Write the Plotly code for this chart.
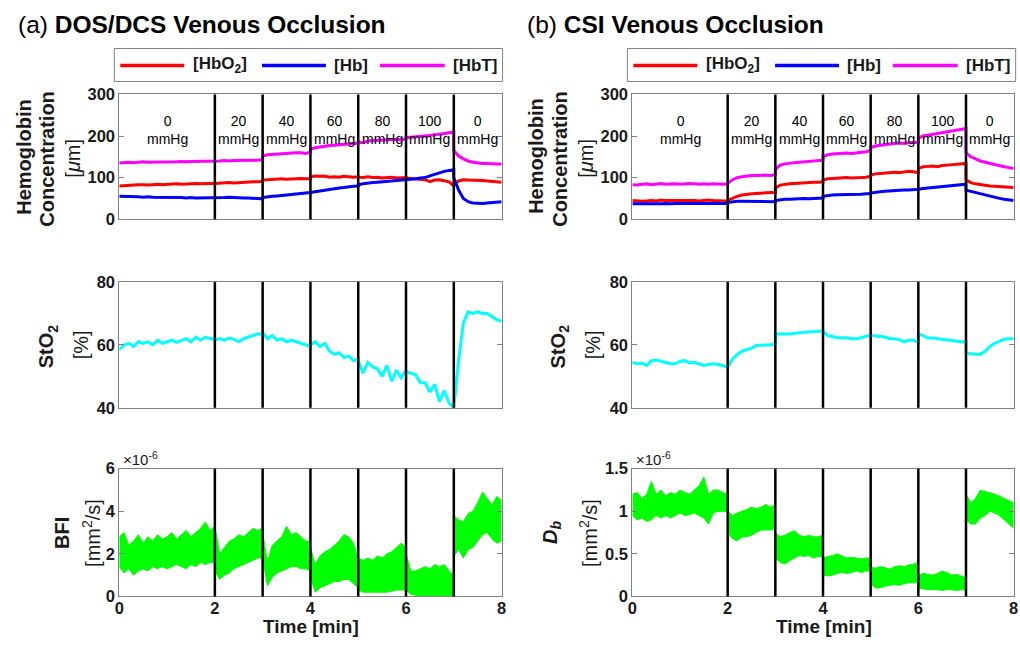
import plotly.graph_objects as go

W, H = 1020, 645

# ---------------- data ----------------
# time samples (min); boundaries repeated so steps happen exactly at each pressure change
TIME = [0.0, 0.1, 0.2, 0.3, 0.4, 0.5, 0.6, 0.7, 0.8, 0.9, 1.0, 1.1, 1.2, 1.3, 1.4, 1.5, 1.6, 1.7, 1.8, 1.9, 2.0,
        2.0, 2.1, 2.2, 2.3, 2.4, 2.5, 2.6, 2.7, 2.8, 2.9, 3.0,
        3.0, 3.1, 3.2, 3.3, 3.4, 3.5, 3.6, 3.7, 3.8, 3.9, 4.0,
        4.0, 4.1, 4.2, 4.3, 4.4, 4.5, 4.6, 4.7, 4.8, 4.9, 5.0,
        5.0, 5.1, 5.2, 5.3, 5.4, 5.5, 5.6, 5.7, 5.8, 5.9, 6.0,
        6.0, 6.1, 6.2, 6.3, 6.4, 6.5, 6.6, 6.7, 6.8, 6.9, 7.0,
        7.0, 7.1, 7.2, 7.3, 7.4, 7.5, 7.6, 7.7, 7.8, 7.9, 8.0]

BOUNDARIES = [2, 3, 4, 5, 6, 7]
PRESSURE_CENTERS = [1, 2.5, 3.5, 4.5, 5.5, 6.5, 7.5]
PRESSURE_LABELS = ["0", "20", "40", "60", "80", "100", "0"]

# (a) DOS/DCS hemoglobin [uM]
A_HBO2 = [80, 81, 82, 82, 83, 83, 82, 83, 84, 83, 84, 84, 85, 84, 85, 85, 86, 85, 86, 86, 86,
          86, 87, 87, 88, 87, 88, 89, 89, 90, 90, 91,
          94, 95, 96, 96, 97, 96, 97, 97, 98, 97, 97,
          102, 104, 103, 104, 101, 102, 101, 103, 102, 101, 102,
          101, 100, 102, 100, 101, 99, 100, 101, 99, 100, 100,
          99, 98, 97, 96, 95, 90, 94, 95, 93, 90, 80,
          82, 92, 95, 94, 94, 93, 93, 92, 91, 90, 89]
A_HB = [55, 55, 54, 54, 54, 53, 54, 53, 53, 53, 52, 53, 52, 52, 51, 52, 51, 51, 52, 51, 51,
        52, 52, 52, 53, 52, 52, 51, 51, 50, 50, 49,
        52, 54, 55, 56, 57, 58, 59, 60, 61, 62, 63,
        64, 66, 68, 70, 72, 73, 75, 76, 78, 79, 80,
        83, 85, 87, 88, 89, 90, 91, 92, 93, 93, 94,
        95, 96, 97, 99, 100, 104, 108, 112, 115, 117, 119,
        100, 70, 50, 42, 39, 38, 38, 39, 40, 41, 42]
A_HBT = [135, 136, 137, 136, 137, 138, 137, 137, 138, 138, 137, 138, 138, 139, 138, 139, 139, 139, 140, 139, 140,
         140, 140, 141, 140, 141, 141, 142, 141, 142, 142, 143,
         152, 155, 156, 157, 158, 158, 159, 160, 160, 158, 161,
         168, 172, 174, 176, 177, 178, 179, 180, 181, 182, 183,
         185, 184, 188, 189, 190, 190, 191, 191, 192, 191, 193,
         196, 197, 198, 198, 200, 201, 203, 204, 206, 208, 210,
         165, 152, 145, 140, 137, 135, 134, 134, 133, 133, 133]

# (b) CSI hemoglobin [uM]
B_HBO2 = [45, 44, 43, 44, 45, 44, 46, 45, 45, 46, 45, 46, 45, 45, 44, 45, 46, 45, 44, 44, 44,
          45, 50, 55, 58, 60, 61, 62, 63, 63, 64, 64,
          75, 82, 84, 85, 86, 87, 88, 88, 89, 89, 90,
          94, 97, 98, 99, 99, 100, 99, 99, 100, 101, 103,
          106, 109, 110, 111, 112, 113, 112, 113, 115, 114, 112,
          122, 126, 127, 128, 126, 129, 130, 131, 131, 133, 134,
          95, 88, 85, 83, 81, 80, 79, 78, 77, 76, 76]
B_HB = [37, 37, 36, 37, 37, 37, 37, 38, 37, 38, 38, 37, 38, 38, 38, 38, 37, 38, 38, 38, 38,
        40, 42, 43, 43, 43, 43, 42, 43, 43, 42, 42,
        45, 47, 48, 48, 49, 49, 50, 49, 50, 50, 51,
        55, 57, 58, 59, 59, 60, 60, 60, 60, 61, 61,
        63, 65, 66, 67, 68, 69, 69, 70, 70, 71, 71,
        72, 74, 75, 77, 78, 79, 80, 81, 82, 83, 84,
        70, 67, 64, 61, 58, 55, 52, 50, 48, 46, 45]
B_HBT = [83, 82, 84, 85, 83, 85, 86, 84, 85, 85, 84, 85, 86, 85, 84, 85, 84, 85, 84, 84, 85,
         86, 95, 100, 102, 104, 105, 105, 106, 106, 105, 107,
         120, 130, 133, 135, 136, 137, 138, 138, 139, 140, 142,
         150, 155, 157, 158, 158, 159, 158, 159, 160, 162, 165,
         172, 176, 178, 180, 181, 182, 183, 182, 184, 185, 184,
         195, 200, 202, 204, 206, 208, 210, 212, 214, 216, 218,
         160, 150, 145, 140, 137, 134, 131, 128, 126, 124, 122]

# StO2 [%]
A_STO2 = [58.5, 60, 60.5, 59.5, 61, 60.5, 61, 60, 61.5, 60.5, 61, 61.5, 60.8, 61.5, 62, 61, 62.5, 61.5, 62.5, 62, 62,
          61.5, 62, 61.5, 62.2, 61.8, 61, 62, 62.5, 63, 63.5, 63.5,
          64, 62, 63, 61.5, 62, 61, 61.5, 61, 60.5, 60, 59.5,
          60, 61, 59.5, 60.5, 58, 57, 57.5, 56, 56.5, 55, 55.5,
          55, 51, 54.5, 53, 52.5, 50, 53.5, 48.5, 52, 49.5, 52,
          51.5, 51, 50.5, 48, 48, 45, 47.5, 42, 45.5, 41.5, 40,
          40, 55, 67, 70.5, 70, 70.5, 70, 70, 69, 68, 67.5]
B_STO2 = [54.5, 54, 54.2, 53.5, 55, 55.2, 54.8, 54.5, 54, 54, 54.8, 55, 54.3, 54.5, 54, 53.5, 53.8, 54, 53.8, 53.5, 53,
          53, 55.5, 57, 58, 58.5, 59, 59.8, 60, 60, 60, 60.5,
          63.5, 63.5, 63.3, 63.5, 63.7, 63.8, 64, 64, 64.2, 64.3, 64.5,
          64.3, 63, 62.7, 62.3, 62.3, 62.3, 62, 62, 62.3, 62.8, 63,
          63, 62.8, 62.8, 62.5, 62, 62, 61.7, 61, 61.5, 61.5, 60.8,
          63.5, 63, 62.2, 62.2, 62, 61.7, 61.5, 61.5, 61.3, 61, 61,
          57.5, 57.2, 57, 57, 58, 59.5, 60.5, 61.2, 61.8, 62, 62]

# BFI (x1e-6 mm^2/s): upper and lower edges of the noisy band
A_BFI_UP = [2.8, 3.0, 2.4, 2.6, 2.9, 2.5, 2.8, 2.6, 2.9, 2.7, 2.8, 3.0, 2.7, 2.9, 3.1, 2.8, 3.0, 3.2, 3.5, 3.1, 3.3,
            3.3, 2.0, 2.3, 2.6, 2.7, 2.9, 2.8, 3.0, 3.2, 3.1, 3.2,
            3.0, 1.6, 2.4, 2.6, 2.8, 3.3, 2.9, 3.0, 2.8, 2.6, 2.6,
            2.3, 1.5, 1.9, 2.1, 2.2, 2.4, 2.6, 2.9, 2.8, 2.5, 1.8,
            1.8, 1.7, 1.8, 1.7, 1.9, 1.8, 2.0, 2.1, 2.3, 2.5, 2.3,
            2.0, 1.2, 1.2, 1.3, 1.4, 1.3, 1.5, 1.4, 1.5, 1.2, 1.0,
            3.8, 3.6, 3.5, 3.9, 4.0, 4.4, 4.9, 4.6, 4.3, 4.7, 4.5]
A_BFI_LO = [1.4, 1.1, 1.3, 1.0, 1.2, 1.3, 1.2, 1.4, 1.3, 1.4, 1.3, 1.4, 1.5, 1.4, 1.3, 1.5, 1.4, 1.6, 1.5, 1.6, 1.6,
            1.2, 0.8, 1.0, 1.1, 1.3, 1.4, 1.5, 1.6, 1.7, 1.8, 1.8,
            1.8, 0.5, 0.9, 1.1, 1.2, 1.3, 1.4, 1.4, 1.3, 1.3, 1.2,
            0.9, 0.2, 0.4, 0.5, 0.6, 0.7, 0.7, 0.8, 0.8, 0.6, 0.4,
            0.3, 0.2, 0.2, 0.2, 0.2, 0.2, 0.2, 0.25, 0.3, 0.3, 0.3,
            0.3, 0.1, 0.05, 0.05, 0.03, 0.02, 0.02, 0.02, 0.02, 0.02, 0.0,
            1.9, 2.2, 1.8, 2.2, 2.3, 2.6, 2.9, 3.0, 2.7, 2.5, 2.6]

# Db (x1e-6 mm^2/s): upper and lower edges of the noisy band
B_DB_UP = [1.2, 1.22, 1.15, 1.2, 1.35, 1.2, 1.25, 1.18, 1.22, 1.2, 1.25, 1.22, 1.2, 1.25, 1.3, 1.4, 1.2, 1.25, 1.25, 1.22, 1.2,
           1.0, 0.95, 0.98, 1.0, 1.02, 1.05, 1.03, 1.05, 1.08, 1.05, 1.07,
           0.75, 0.7, 0.72, 0.75, 0.77, 0.72, 0.7, 0.72, 0.7, 0.7, 0.72,
           0.45, 0.47, 0.48, 0.5, 0.47, 0.45, 0.46, 0.45, 0.44, 0.45, 0.45,
           0.35, 0.33, 0.35, 0.34, 0.32, 0.35, 0.36, 0.35, 0.37, 0.38, 0.4,
           0.25, 0.27, 0.26, 0.25, 0.27, 0.3, 0.28, 0.25, 0.26, 0.24, 0.22,
           1.2, 1.1, 1.15, 1.25, 1.23, 1.22, 1.2, 1.18, 1.15, 1.12, 1.1]
B_DB_LO = [0.95, 0.9, 0.92, 0.88, 0.9, 0.95, 0.92, 0.95, 0.92, 0.95, 0.98, 0.95, 0.96, 0.98, 0.95, 0.92, 0.85, 0.98, 1.0, 1.0, 1.0,
           0.75, 0.68, 0.65, 0.7, 0.7, 0.72, 0.75, 0.78, 0.78, 0.78, 0.8,
           0.45, 0.4, 0.38, 0.42, 0.45, 0.48, 0.47, 0.48, 0.45, 0.47, 0.47,
           0.25, 0.24, 0.25, 0.27, 0.28, 0.27, 0.28, 0.3, 0.28, 0.3, 0.3,
           0.15, 0.1, 0.1, 0.12, 0.13, 0.14, 0.13, 0.15, 0.16, 0.16, 0.16,
           0.1, 0.09, 0.08, 0.08, 0.08, 0.07, 0.08, 0.08, 0.07, 0.08, 0.08,
           0.9, 0.85, 0.85, 0.92, 0.95, 1.0, 0.98, 0.95, 0.9, 0.85, 0.8]

for arr in [A_HBO2, A_HB, A_HBT, B_HBO2, B_HB, B_HBT, A_STO2, B_STO2,
            A_BFI_UP, A_BFI_LO, B_DB_UP, B_DB_LO]:
    assert len(arr) == len(TIME), len(arr)

# ---------------- style ----------------
RED, BLUE, MAGENTA, CYAN, GREEN = "#ff0000", "#0000ff", "#ff00ff", "#00ffff", "#00ff00"
FONT = "Liberation Sans, Arial, Helvetica, sans-serif"
TXT = "#1a1a1a"
FRAME = "#808080"

# the captured picture is slightly inset/scaled relative to the figure; compensate
SX, OX, SY, OY = 0.992, 3.5, 0.974, 7.4


def fx(p):
    return ((p - OX) / SX) / W


def fy(p):
    return 1 - ((p - OY) / SY) / H


# panel geometry in reference pixels (left, right, top, bottom)
PANEL_X = {"a": (118, 501), "b": (632, 1014)}
ROW_Y = [(93, 218), (281, 407), (468, 596)]

fig = go.Figure()

axis_id = {}
n = 0
for col in ["a", "b"]:
    for r in range(3):
        n += 1
        axis_id[(col, r)] = n

YRANGES = [[0, 300], [40, 80], None]
YTICKS = [[0, 100, 200, 300], [40, 60, 80], None]


def axes_names(col, r):
    k = axis_id[(col, r)]
    s = "" if k == 1 else str(k)
    return "x" + s, "y" + s, "xaxis" + s, "yaxis" + s


layout_axes = {}
for col in ["a", "b"]:
    for r in range(3):
        xn, yn, xk, yk = axes_names(col, r)
        x0, x1 = PANEL_X[col]
        t, b = ROW_Y[r]
        layout_axes[xk] = dict(
            domain=[fx(x0), fx(x1)], range=[0, 8], anchor=yn,
            tickvals=[0, 2, 4, 6, 8], showticklabels=(r == 2), ticklabelstandoff=-3,
            ticks="inside", ticklen=5, tickcolor=FRAME, mirror="ticks",
            showline=True, linecolor=FRAME, linewidth=1, showgrid=False, zeroline=False,
            tickfont=dict(family=FONT, size=16.5, color=TXT, weight="bold"),
        )
        if r < 2:
            yr, yt = YRANGES[r], YTICKS[r]
        elif col == "a":
            yr, yt = [0, 6], [0, 2, 4, 6]
        else:
            yr, yt = [0, 1.5], [0, 0.5, 1, 1.5]
        layout_axes[yk] = dict(
            domain=[fy(b), fy(t)], range=yr, anchor=xn, tickvals=yt,
            ticks="inside", ticklen=5, tickcolor=FRAME, mirror="ticks",
            showline=True, linecolor=FRAME, linewidth=1, showgrid=False, zeroline=False,
            tickfont=dict(family=FONT, size=16.5, color=TXT, weight="bold"),
        )

# ---- data traces
for col, (o2, hb, ht) in {"a": (A_HBO2, A_HB, A_HBT), "b": (B_HBO2, B_HB, B_HBT)}.items():
    xn, yn, _, _ = axes_names(col, 0)
    for vals, c in [(o2, RED), (hb, BLUE), (ht, MAGENTA)]:
        fig.add_trace(go.Scatter(x=TIME, y=vals, mode="lines", line=dict(color=c, width=3),
                                 xaxis=xn, yaxis=yn, showlegend=False))
    # StO2
    xn, yn, _, _ = axes_names(col, 1)
    fig.add_trace(go.Scatter(x=TIME, y=A_STO2 if col == "a" else B_STO2, mode="lines",
                             line=dict(color=CYAN, width=3), xaxis=xn, yaxis=yn, showlegend=False))
    # flow band
    xn, yn, _, _ = axes_names(col, 2)
    lo, up = (A_BFI_LO, A_BFI_UP) if col == "a" else (B_DB_LO, B_DB_UP)
    fig.add_trace(go.Scatter(x=TIME, y=lo, mode="lines", line=dict(color=GREEN, width=1),
                             xaxis=xn, yaxis=yn, showlegend=False))
    fig.add_trace(go.Scatter(x=TIME, y=up, mode="lines", line=dict(color=GREEN, width=1),
                             fill="tonexty", fillcolor=GREEN, xaxis=xn, yaxis=yn, showlegend=False))

shapes = []
annotations = []

# boundary lines
for col in ["a", "b"]:
    for r in range(3):
        xn, yn, _, _ = axes_names(col, r)
        for bd in BOUNDARIES:
            shapes.append(dict(type="line", xref=xn, yref=yn + " domain", x0=bd, x1=bd, y0=0, y1=1,
                               line=dict(color="black", width=2.5), layer="above"))
    # pressure labels
    xn, yn, _, _ = axes_names(col, 0)
    for xc, lab in zip(PRESSURE_CENTERS, PRESSURE_LABELS):
        annotations.append(dict(xref=xn, yref=yn + " domain", x=xc, y=0.87,
                                text=lab + "<br>mmHg", showarrow=False,
                                font=dict(family=FONT, size=14, color="black"), align="center"))

# titles
for col, off, title in [("a", 0, "(a) <b>DOS/DCS Venous Occlusion</b>"),
                        ("b", 509, "(b) <b>CSI Venous Occlusion</b>")]:
    annotations.append(dict(xref="paper", yref="paper", x=fx(15 + off), y=fy(23), xanchor="left",
                            yanchor="middle", text=title, showarrow=False,
                            font=dict(family=FONT, size=24.5, color="black")))
# legend boxes (panel b offset by 514 px)
for col, off in [("a", 0), ("b", 514)]:
    shapes.append(dict(type="rect", xref="paper", yref="paper", x0=fx(113 + off), x1=fx(502 + off),
                       y0=fy(80), y1=fy(47), line=dict(color=FRAME, width=1), fillcolor="white"))
    for (l0, l1, tx, lab, c) in [(119, 183, 190, "[HbO<sub>2</sub>]", RED),
                                 (261, 325, 331, "[Hb]", BLUE),
                                 (379, 444, 450, "[HbT]", MAGENTA)]:
        shapes.append(dict(type="line", xref="paper", yref="paper", x0=fx(l0 + off), x1=fx(l1 + off),
                           y0=fy(64), y1=fy(64), line=dict(color=c, width=3.5)))
        annotations.append(dict(xref="paper", yref="paper", x=fx(tx + off), y=fy(64), xanchor="left",
                                yanchor="middle", text="<b>" + lab + "</b>", showarrow=False,
                                font=dict(family=FONT, size=17, color=TXT)))

ylabels = [
    (23, 155, "<b>Hemoglobin</b>"), (46, 157, "<b>Concentration</b>"), (72, 157, "[<i>μ</i>m]"),
    (47, 345, "<b>StO<sub>2</sub></b>"), (80, 344, "[%]"),
    (60, 532, "<b>BFI</b>"), (90, 532, "[mm<sup>2</sup>/s]"),
    (536, 155, "<b>Hemoglobin</b>"), (560, 157, "<b>Concentration</b>"), (586, 157, "[<i>μ</i>m]"),
    (559, 345, "<b>StO<sub>2</sub></b>"), (593, 344, "[%]"),
    (551, 532, "<b><i>D</i><sub><i>b</i></sub></b>"), (588, 532, "[mm<sup>2</sup>/s]"),
]
for x, y, t in ylabels:
    annotations.append(dict(xref="paper", yref="paper", x=fx(x), y=fy(y), xanchor="center",
                            yanchor="middle", text=t, textangle=-90, showarrow=False,
                            font=dict(family=FONT, size=20, color=TXT)))

for off in [0, 514]:
    annotations.append(dict(xref="paper", yref="paper", x=fx(310 + off), y=1 - 635 / H,
                            xanchor="center", yanchor="middle", text="<b>Time [min]</b>", showarrow=False,
                            font=dict(family=FONT, size=19, color=TXT)))
    annotations.append(dict(xref="paper", yref="paper", x=fx(120 + off), y=fy(458), xanchor="left",
                            yanchor="middle", text="×10<sup>-6</sup>", showarrow=False,
                            font=dict(family=FONT, size=15, color=TXT)))

fig.update_layout(
    width=W, height=H, margin=dict(l=0, r=0, t=0, b=0),
    paper_bgcolor="white", plot_bgcolor="white", showlegend=False,
    shapes=shapes, annotations=annotations, **layout_axes,
)

POST = """
var gd = document.getElementById('{plot_id}');
gd.style.position = 'fixed'; gd.style.left = '0px'; gd.style.top = '0px';
document.documentElement.style.margin = '0'; document.documentElement.style.padding = '0';
document.body.style.margin = '0'; document.body.style.padding = '0';
document.documentElement.style.overflow = 'hidden'; document.body.style.overflow = 'hidden';
"""

fig.write_html("out.html", config={"displayModeBar": False}, post_script=POST)
